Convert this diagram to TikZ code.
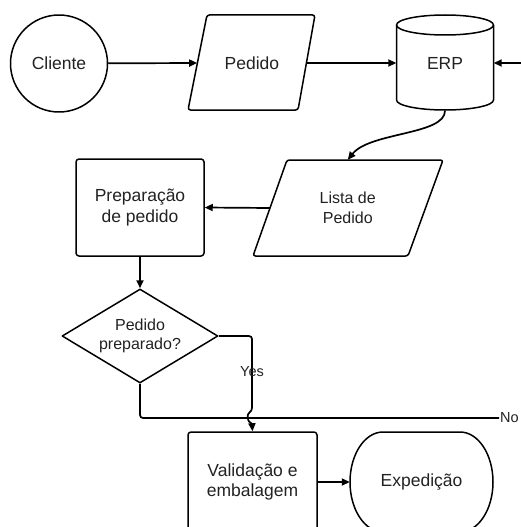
\documentclass[tikz,border=0pt]{standalone}
\usepackage{fontspec}
\setmainfont{Liberation Sans}
\usetikzlibrary{arrows.meta,shapes.geometric}
\definecolor{txt}{HTML}{222222}
\tikzset{
  conn/.style={line width=1.7pt, draw=black},
  arr/.style={conn, -{Triangle[length=8pt,width=7pt]}},
  outl/.style={line width=1.5pt, draw=black, line join=round},
  big/.style={font=\fontsize{17.5}{20.5}\selectfont, text=txt, align=center, inner sep=0pt},
  mid/.style={font=\fontsize{16}{19.5}\selectfont, text=txt, align=center, inner sep=0pt},
  small/.style={font=\fontsize{14.5}{16}\selectfont, text=txt, inner sep=1pt},
}
\begin{document}
\begin{tikzpicture}[x=1pt,y=-1pt]
\useasboundingbox (0,0) rectangle (521,527);
\clip (0,0) rectangle (521,527);
% Cliente
\node[big, circle, outl, draw, minimum size=97pt] (cliente) at (59,63.5) {Cliente};
% Pedido parallelogram
\draw[outl, rounded corners=2.5pt] (207,15) -- (315,15) -- (298,110) -- (188,110) -- cycle;
\node[big, minimum width=109pt, minimum height=95pt] (pedido) at (251.9,63) {Pedido};
% ERP cylinder
\draw[outl] (445,25) ellipse [x radius=48.5, y radius=10];
\draw[outl] (396.5,25) -- (396.5,100) arc[start angle=180, end angle=0, x radius=48.5, y radius=10] -- (493.5,25);
\node[big, minimum width=97pt, minimum height=95pt] (erp) at (445,63) {\raisebox{-6pt}{ERP}};
\coordinate (rightEnd) at (530,63);
% Lista de Pedido
\draw[outl, rounded corners=2.5pt] (287,160) -- (443,160) -- (408,256) -- (253,256) -- cycle;
\node[mid, minimum width=155.5pt, minimum height=96pt] (lista) at (347.75,208) {Lista de\\Pedido};
% Preparacao
\node[big, outl, draw, rounded corners=3pt, minimum width=128pt, minimum height=97pt] (prep) at (140,207.5) {Preparação\\de pedido};
% Decision
\node[mid, diamond, outl, draw, minimum width=156pt, minimum height=94pt, aspect=1.66] (dec) at (140,336) {Pedido\\preparado?};
% Validacao
\node[big, outl, draw, rounded corners=3pt, minimum width=129pt, minimum height=100pt] (val) at (252.5,482) {Validação e\\embalagem};
% Expedicao
\draw[outl] (383,432) -- (460,432) arc[start angle=-90, end angle=90, x radius=33, y radius=50] -- (383,532) arc[start angle=90, end angle=270, x radius=33, y radius=50] -- cycle;
\node[big, minimum width=143pt, minimum height=100pt] (exp) at (421.5,482) {Expedição};
% No label
\node[small, anchor=west] (no) at (499,418) {No};
% connectors
\draw[arr] (cliente) -- (pedido.west);
\draw[arr] (pedido.east) -- (erp.west);
\draw[arr] (rightEnd) -- (erp.east);
\draw[arr] (erp.south) .. controls (445,135) and (370,132) .. (lista.north);
\draw[arr] (lista.west) -- (prep.east);
\draw[arr] (prep.south) -- (dec.north);
\coordinate (hopA) at (252,411);
\coordinate (hopB) at (252,424);
\draw[arr] (dec.east) [rounded corners=3pt] -| (hopA) [sharp corners] .. controls (247,414) and (246,421) .. (hopB) -- (val.north);
\node[small] (yes) at (252,372) {Yes};
\draw[conn] (dec.south) [rounded corners=3pt] |- (no.west);
\draw[arr] (val.east) -- (exp.west);
\end{tikzpicture}
\end{document}
